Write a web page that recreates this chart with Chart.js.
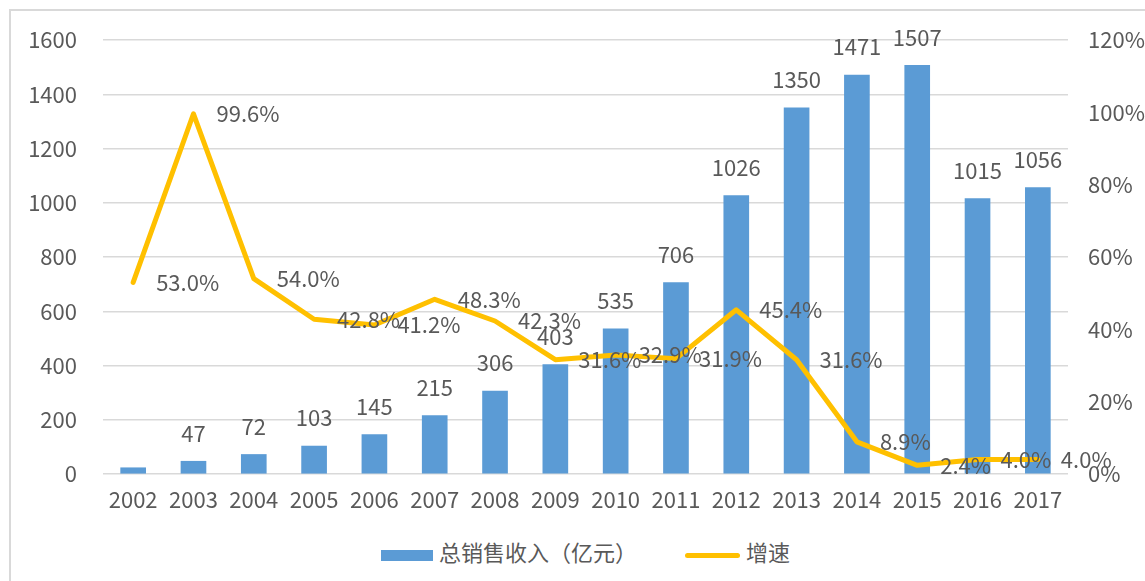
<!DOCTYPE html>
<html>
<head>
<meta charset="utf-8">
<script src="https://cdn.jsdelivr.net/npm/chart.js@4.4.1/dist/chart.umd.min.js"></script>
<style>
  html, body { margin: 0; padding: 0; background: #fff; }
  #wrap { position: relative; width: 1145px; height: 581px; overflow: hidden; background: #fff; }
  #frame { position: absolute; left: 9px; top: 9px; width: 1150px; height: 590px; border: 2px solid #d9d9d9; box-sizing: border-box; }
  #box { position: absolute; left: 0; top: 0; width: 1145px; height: 520px; }
  #legend { position: absolute; left: 0; top: 536px; width: 1145px; height: 30px; font-family: "Noto Sans CJK SC", "Noto Sans", sans-serif; font-size: 22px; color: #595959; }
  .item { position: absolute; top: 0; height: 30px; line-height: 30px; white-space: nowrap; }
  .sw { display: inline-block; vertical-align: middle; margin-right: 6px; }
</style>
</head>
<body>
<div id="wrap">
  <div id="frame"></div>
  <div id="box"><canvas id="chart" width="1145" height="520"></canvas></div>
  <div id="legend">
    <div class="item" style="left:381px"><span class="sw" style="width:52px;height:11px;background:#5B9BD5"></span><span id="lg0"></span></div>
    <div class="item" style="left:685px"><span class="sw" style="width:55px;height:5px;border-radius:3px;background:#FFC000"></span><span id="lg1"></span></div>
  </div>
</div>
<script>
const years = ['2002','2003','2004','2005','2006','2007','2008','2009','2010','2011','2012','2013','2014','2015','2016','2017'];
const sales = [23, 47, 72, 103, 145, 215, 306, 403, 535, 706, 1026, 1350, 1471, 1507, 1015, 1056];
const growth = [53.0, 99.6, 54.0, 42.8, 41.2, 48.3, 42.3, 31.6, 32.9, 31.9, 45.4, 31.6, 8.9, 2.4, 4.0, 4.0];
const salesName = '总销售收入（亿元）';
const growthName = '增速';

document.getElementById('lg0').textContent = salesName;
document.getElementById('lg1').textContent = growthName;

const font = "'Noto Sans CJK SC', 'Noto Sans', sans-serif";
const grey = '#595959';

// value labels: numbers over bars, percents to the right of line points
const labelPlugin = {
  id: 'labels',
  afterDatasetsDraw(chart) {
    const ctx = chart.ctx;
    ctx.save();
    ctx.font = '22px ' + font;
    ctx.fillStyle = grey;
    ctx.textBaseline = 'middle';
    ctx.textAlign = 'center';
    chart.getDatasetMeta(0).data.forEach((el, i) => {
      if (i === 0) return; // no label on the first bar in the original
      ctx.fillText(String(sales[i]), el.x, el.y - 28);
    });
    ctx.textAlign = 'left';
    chart.getDatasetMeta(1).data.forEach((el, i) => {
      ctx.fillText(growth[i].toFixed(1) + '%', el.x + 23, el.y);
    });
    ctx.restore();
  }
};

new Chart(document.getElementById('chart').getContext('2d'), {
  data: {
    labels: years,
    datasets: [
      {
        type: 'bar',
        label: salesName,
        data: sales,
        backgroundColor: '#5B9BD5',
        barThickness: 25,
        yAxisID: 'y',
        order: 2
      },
      {
        type: 'line',
        label: growthName,
        data: growth,
        borderColor: '#FFC000',
        borderWidth: 5,
        pointRadius: 0,
        tension: 0,
        borderCapStyle: 'round',
        borderJoinStyle: 'round',
        yAxisID: 'y1',
        order: 1
      }
    ]
  },
  options: {
    responsive: false,
    animation: false,
    layout: { padding: { top: 40, left: 0, right: 0, bottom: 0 } },
    plugins: { legend: { display: false }, tooltip: { enabled: false } },
    scales: {
      x: {
        grid: { display: false, drawTicks: false },
        border: { display: false },
        ticks: { color: grey, font: { family: font, size: 22 }, padding: 12 },
        afterFit(s) { s.height = 46; }
      },
      y: {
        position: 'left',
        min: 0, max: 1600,
        grid: { color: '#d9d9d9', lineWidth: 1.5, drawTicks: false },
        border: { display: false },
        ticks: { stepSize: 200, color: grey, font: { family: font, size: 22 }, padding: 26, callback: v => String(v) },
        afterFit(s) { s.width = 103; }
      },
      y1: {
        position: 'right',
        min: 0, max: 120,
        grid: { display: false, drawTicks: false },
        border: { display: false },
        ticks: { stepSize: 20, color: grey, font: { family: font, size: 22 }, padding: 20, callback: v => v + '%' },
        afterFit(s) { s.width = 77; }
      }
    }
  },
  plugins: [labelPlugin]
});
</script>
</body>
</html>
